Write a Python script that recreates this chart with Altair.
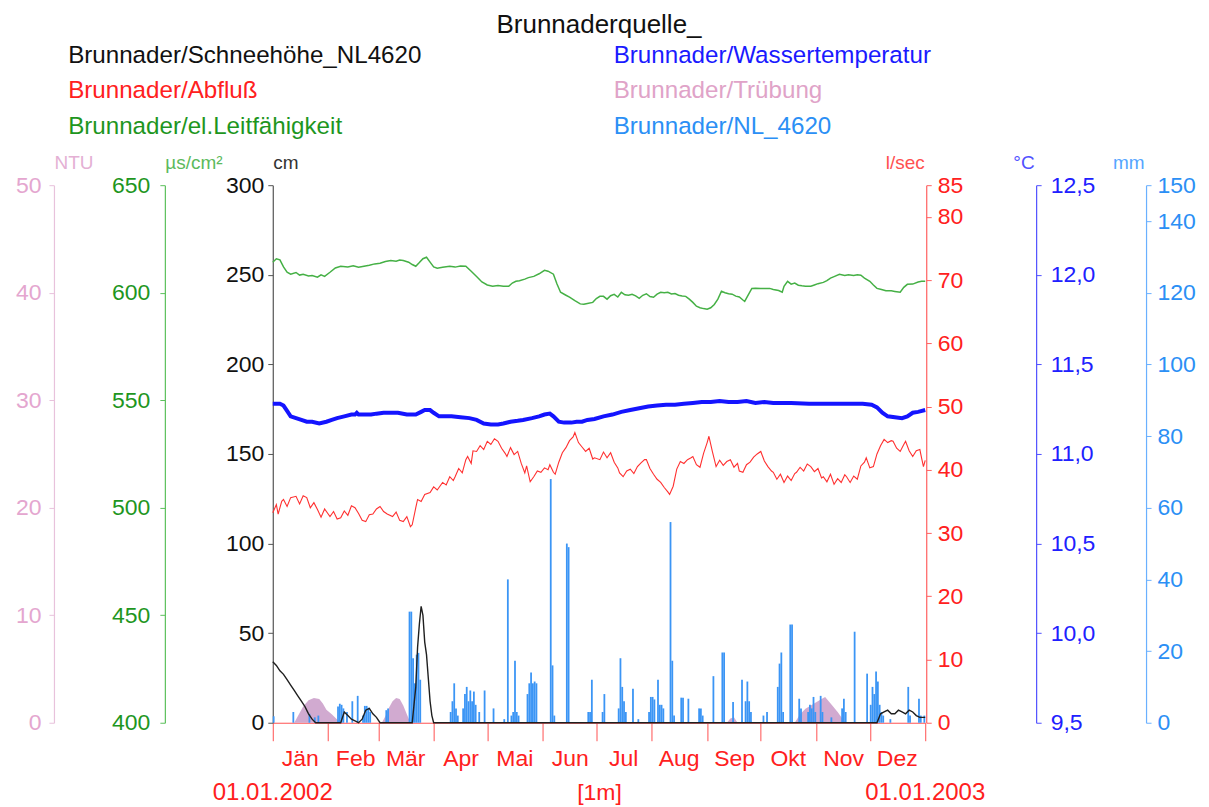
import altair as alt
import pandas as pd

FONT = "Liberation Sans, Arial, Helvetica, sans-serif"

# ---------------- legend / series (column-major order: left column, then right column) ----------------
series_names = ["Brunnader/Schneehöhe_NL4620", "Brunnader/Abfluß",
                "Brunnader/el.Leitfähigkeit", "Brunnader/Wassertemperatur",
                "Brunnader/Trübung", "Brunnader/NL_4620"]
series_colors = ["#1f1f1f", "#ff3030", "#45b045", "#1414ff", "#c99bc8", "#3b95f5"]
label_colors = ["#111111", "#ff2020", "#1e961e", "#1a1aff", "#e0a3c8", "#2b8ff5"]

# ---------------- x axis ----------------
month_starts = [0, 31, 59, 90, 120, 151, 181, 212, 243, 273, 304, 334, 365]
month_names = ["Jän", "Feb", "Mär", "Apr", "Mai", "Jun", "Jul", "Aug", "Sep", "Okt", "Nov", "Dez", ""]
date_days = [0, 365]
date_labels = ["01.01.2002", "01.01.2003"]

# ---------------- data (day of year 2002) ----------------
snow_day = [0, 2, 4, 6, 8, 10, 12, 14, 16, 18, 20, 22, 24, 38, 40, 42, 44, 46, 48, 50, 52, 54, 56, 58, 60,
            78, 80, 81, 82, 83, 84, 85, 86, 87, 88, 89, 90, 338, 340, 342, 344, 346, 348, 350, 352, 354,
            356, 358, 360, 362, 365]
snow_cm = [34, 32, 29, 27, 24, 21, 18, 15, 12, 9, 5, 2, 0, 0, 6, 4, 2, 1, 0, 2, 7, 8, 5, 3, 0,
           0, 20, 42, 55, 65, 60, 45, 38, 25, 12, 4, 0, 0, 5, 6, 7, 5, 5, 7, 6, 5,
           7, 6, 4, 3, 3]

flow_day = [0, 2, 3, 5, 6, 8, 10, 13, 15, 17, 19, 21, 23, 25, 27, 29, 32, 34, 36, 38, 40, 42, 44, 46, 48,
            50, 52, 54, 56, 58, 60, 62, 64, 67, 69, 71, 73, 75, 77, 78, 80, 81, 83, 85, 88, 90, 92, 95,
            97, 99, 101, 102, 104, 106, 108, 109, 111, 112, 114, 116, 118, 120, 122, 124, 126, 128, 130,
            131, 133, 135, 137, 139, 141, 142, 144, 146, 148, 150, 152, 154, 155, 157, 158, 160, 162, 164,
            166, 168, 169, 171, 173, 175, 177, 179, 180, 183, 185, 187, 189, 191, 193, 194, 196, 198, 200,
            202, 204, 206, 208, 209, 211, 213, 215, 217, 219, 221, 222, 224, 226, 228, 230, 232, 234, 235,
            237, 239, 241, 243, 244, 246, 248, 250, 252, 254, 256, 258, 260, 261, 263, 265, 267, 269, 271,
            273, 275, 277, 279, 280, 282, 284, 286, 288, 290, 292, 293, 295, 297, 299, 301, 303, 305, 307,
            308, 310, 312, 314, 316, 318, 320, 321, 323, 325, 327, 329, 331, 332, 334, 336, 338, 340, 342,
            344, 346, 347, 349, 351, 353, 354, 356, 358, 360, 362, 363, 364, 365]
flow_ls = [33.2, 34.5, 33.0, 35.0, 35.3, 34.2, 35.6, 35.8, 34.6, 35.9, 35.6, 34.0, 34.8, 33.7, 32.5, 33.8,
           32.6, 33.4, 32.2, 32.4, 33.5, 32.8, 34.3, 34.0, 33.1, 32.0, 31.8, 32.9, 33.0, 33.8, 34.2, 33.4,
           33.0, 32.6, 33.3, 32.0, 31.8, 32.6, 31.0, 31.3, 34.0, 35.3, 35.0, 36.1, 36.4, 37.3, 36.8, 38.0,
           37.6, 38.9, 38.3, 38.9, 40.2, 39.5, 41.6, 42.1, 41.0, 43.0, 42.9, 43.8, 43.2, 44.5, 44.0, 44.9,
           44.5, 43.4, 42.6, 42.1, 43.5, 42.4, 42.9, 41.0, 39.5, 40.6, 38.1, 38.9, 39.8, 39.6, 40.3, 40.0,
           40.8, 39.6, 39.3, 41.2, 42.7, 43.5, 44.6, 45.2, 45.9, 44.3, 43.6, 42.9, 43.4, 41.7, 41.9, 41.6,
           42.8, 41.9, 42.7, 41.2, 40.3, 39.5, 38.9, 39.8, 40.1, 39.4, 40.5, 41.1, 41.6, 41.6, 40.2, 39.3,
           38.5, 38.0, 37.2, 36.5, 36.1, 37.4, 40.1, 41.3, 41.0, 41.6, 41.9, 42.1, 40.8, 40.4, 42.6, 44.3,
           45.3, 42.8, 40.5, 41.5, 40.7, 41.3, 41.6, 40.4, 41.0, 39.8, 39.6, 40.8, 41.2, 42.0, 42.5, 42.9,
           41.4, 40.5, 39.8, 39.6, 38.5, 39.3, 38.0, 39.0, 38.3, 39.4, 39.6, 40.4, 39.8, 40.9, 40.5, 39.7,
           40.2, 38.7, 38.9, 38.1, 39.3, 37.7, 38.6, 38.0, 39.2, 38.9, 38.0, 39.0, 38.5, 40.6, 41.2, 41.9,
           40.3, 40.5, 42.5, 43.8, 44.8, 44.3, 44.6, 44.5, 43.4, 42.9, 44.0, 44.5, 43.0, 42.1, 43.0, 43.2,
           41.8, 40.5, 41.5]

cond_day = [0, 2, 4, 6, 8, 10, 13, 15, 17, 20, 22, 25, 27, 29, 32, 35, 38, 42, 45, 48, 51, 54, 57, 60, 63,
            66, 69, 71, 73, 76, 78, 80, 82, 84, 86, 88, 90, 92, 95, 99, 102, 105, 108, 111, 114, 117, 120,
            123, 126, 129, 132, 134, 136, 138, 141, 143, 146, 149, 152, 154, 157, 159, 161, 164, 166, 169,
            172, 174, 176, 179, 181, 183, 185, 187, 189, 191, 193, 195, 197, 199, 201, 203, 205, 207, 209,
            211, 213, 215, 217, 219, 221, 223, 225, 227, 229, 231, 233, 235, 237, 239, 241, 243, 245, 247,
            249, 251, 253, 255, 257, 259, 261, 263, 264, 266, 268, 270, 273, 276, 278, 280, 283, 285, 286,
            288, 290, 292, 294, 296, 298, 301, 303, 305, 308, 310, 312, 314, 317, 320, 322, 325, 327, 329,
            331, 334, 336, 338, 340, 343, 346, 348, 351, 353, 355, 358, 361, 363, 365]
cond_us = [614.2, 615.8, 615.3, 612.0, 609.5, 608.6, 609.4, 608.2, 608.6, 607.8, 608.0, 607.2, 608.3,
           607.6, 609.5, 611.5, 612.3, 612.0, 612.5, 611.8, 612.3, 612.8, 613.4, 613.7, 614.5, 615.0,
           614.6, 615.2, 615.0, 614.2, 613.1, 612.3, 614.0, 615.8, 616.5, 614.2, 612.0, 611.4, 611.8,
           612.3, 611.9, 612.4, 612.3, 610.0, 607.5, 605.0, 603.6, 603.0, 603.3, 603.0, 603.0, 604.5,
           605.3, 605.6, 606.3, 607.0, 607.6, 608.8, 610.4, 610.0, 608.6, 604.0, 600.2, 598.8, 597.9,
           596.3, 594.8, 594.6, 595.0, 595.5, 597.3, 598.3, 598.3, 597.0, 598.6, 599.2, 598.0, 600.2,
           599.0, 598.8, 599.3, 598.5, 597.4, 598.8, 599.5, 598.2, 597.9, 599.3, 600.2, 600.0, 600.2,
           599.4, 599.6, 598.8, 598.5, 598.3, 597.0, 595.5, 593.7, 593.0, 592.6, 592.3, 593.0, 594.5,
           597.0, 600.7, 600.0, 599.5, 599.3, 598.4, 598.0, 596.6, 596.0, 599.0, 602.0, 602.1, 602.0,
           602.0, 602.0, 601.5, 601.0, 600.2, 603.0, 605.3, 604.0, 604.5, 603.5, 603.2, 603.0, 603.0,
           603.6, 604.2, 604.8, 605.6, 606.8, 607.5, 608.6, 608.0, 608.3, 608.0, 608.3, 608.1, 606.8,
           605.3, 603.6, 602.0, 601.6, 600.9, 600.9, 600.6, 600.2, 602.5, 603.9, 604.0, 605.0, 605.3,
           605.3]

temp_day = [0, 4, 6, 8, 10, 13, 16, 19, 22, 26, 30, 33, 36, 40, 44, 46, 47, 48, 55, 58, 62, 70, 75, 80,
            83, 85, 88, 90, 93, 100, 105, 110, 114, 118, 122, 126, 129, 133, 137, 140, 145, 149, 152, 155,
            157, 160, 163, 167, 170, 173, 176, 180, 185, 190, 195, 200, 205, 210, 215, 220, 225, 230, 235,
            240, 245, 250, 255, 260, 265, 270, 275, 280, 290, 300, 310, 320, 330, 335, 338, 341, 344, 348,
            352, 355, 358, 361, 365]
temp_c = [11.28, 11.28, 11.27, 11.24, 11.21, 11.20, 11.19, 11.18, 11.18, 11.17, 11.18, 11.19, 11.20,
          11.21, 11.22, 11.22, 11.23, 11.22, 11.22, 11.225, 11.23, 11.23, 11.22, 11.22, 11.235, 11.245,
          11.245, 11.23, 11.21, 11.21, 11.205, 11.20, 11.19, 11.17, 11.165, 11.165, 11.17, 11.18, 11.185,
          11.19, 11.20, 11.21, 11.22, 11.225, 11.21, 11.18, 11.175, 11.175, 11.18, 11.18, 11.19, 11.195,
          11.21, 11.22, 11.235, 11.245, 11.255, 11.265, 11.27, 11.275, 11.275, 11.28, 11.285, 11.29,
          11.29, 11.295, 11.29, 11.29, 11.295, 11.285, 11.29, 11.285, 11.285, 11.28, 11.28, 11.28, 11.28,
          11.275, 11.26, 11.23, 11.21, 11.205, 11.20, 11.21, 11.23, 11.235, 11.245]

turb_day = [0, 12, 14, 17, 20, 23, 26, 28, 30, 33, 36, 38, 61, 63, 65, 67, 69, 71, 73, 75, 77, 254, 256,
            258, 260, 292, 295, 298, 301, 304, 307, 309, 311, 313, 316, 319, 321, 365]
turb_ntu = [0, 0, 0.6, 1.5, 2.1, 2.3, 2.2, 1.8, 1.2, 0.8, 0.3, 0, 0, 0.6, 1.4, 2.0, 2.3, 2.2, 1.6, 0.8, 0,
            0, 0.4, 0.5, 0, 0, 0.8, 1.3, 1.6, 1.9, 2.2, 2.4, 2.0, 1.6, 1.0, 0.3, 0, 0]

rain_day = [0, 11, 20, 23, 25, 36, 37, 38, 39, 41, 44, 47, 50, 51, 52, 53, 54, 63, 64, 76, 77, 78, 79, 80,
            81, 82, 99, 100, 101, 102, 103, 106, 107, 108, 109, 110, 111, 112, 113, 115, 118, 123, 129, 131,
            133, 134, 135, 136, 137, 142, 143, 144, 145, 146, 147, 155, 156, 157, 164, 165, 176, 177, 178,
            184, 185, 193, 194, 195, 196, 197, 201, 204, 210, 211, 212, 213, 215, 216, 217, 218, 222, 223,
            224, 228, 229, 232, 238, 239, 240, 246, 251, 252, 257, 262, 264, 265, 266, 267, 274, 276, 282,
            283, 284, 285, 289, 290, 294, 295, 299, 300, 301, 302, 303, 306, 307, 312, 318, 319, 320, 325,
            332, 334, 335, 336, 337, 338, 339, 340, 341, 345, 355, 356, 361, 362, 364]
rain_mm = [1.8, 3.0, 2.5, 1.5, 2.0, 4.5, 5.3, 5.0, 4.0, 3.0, 6.0, 7.5, 2.0, 4.7, 4.7, 4.2, 3.0, 3.5, 4.0,
           31.0, 31.0, 18.0, 11.0, 19.0, 19.5, 12.0, 3.0, 6.0, 11.0, 4.0, 2.0, 4.0, 8.0, 10.0, 6.0, 9.0,
           6.0, 8.7, 5.0, 3.0, 9.0, 4.0, 1.0, 40.0, 2.0, 3.0, 17.3, 3.0, 2.0, 8.0, 11.0, 14.0, 11.0, 11.5,
           11.0, 68.0, 16.0, 2.0, 50.0, 49.0, 3.0, 3.0, 12.0, 3.0, 8.0, 4.0, 18.0, 10.0, 6.0, 3.0, 9.5,
           1.0, 3.0, 7.2, 7.2, 6.5, 12.0, 5.0, 5.0, 4.0, 56.0, 17.3, 2.0, 7.0, 7.0, 6.7, 4.0, 4.0, 2.0,
           13.0, 19.6, 19.6, 5.8, 12.0, 6.0, 11.5, 6.0, 3.0, 2.0, 3.0, 10.0, 16.5, 19.6, 3.0, 27.4, 27.4,
           6.7, 4.0, 3.0, 5.0, 4.0, 7.2, 3.0, 7.5, 3.0, 1.5, 4.0, 6.7, 3.0, 25.4, 13.7, 5.0, 10.0, 8.0,
           14.3, 11.5, 5.0, 3.0, 2.0, 1.0, 10.0, 2.0, 6.7, 2.0, 2.0]

# ---------------- tables ----------------
snow_df = pd.DataFrame({"day": snow_day, "v": snow_cm})
flow_df = pd.DataFrame({"day": flow_day, "v": flow_ls})
cond_df = pd.DataFrame({"day": cond_day, "v": cond_us})
temp_df = pd.DataFrame({"day": temp_day, "v": temp_c})
turb_df = pd.DataFrame({"day": turb_day, "v": turb_ntu})
rain_df = pd.DataFrame({"day": rain_day, "v": rain_mm})
date_df = pd.DataFrame({"day": date_days, "label": date_labels})

W, H = 653, 538

def js_list(items):
    return "[" + ",".join("'" + str(s) + "'" if isinstance(s, str) else str(s) for s in items) + "]"

month_expr = f"{js_list(month_names)}[indexof({js_list(month_starts)}, datum.value)]"
legend_color_expr = f"{js_list(label_colors)}[indexof({js_list(series_names)}, datum.label)]"

legend_def = alt.Legend(
    title=None, orient="none", legendX=-229, legendY=-142, columns=2,
    columnPadding=168, rowPadding=11, symbolOpacity=0, symbolSize=1, symbolStrokeWidth=0,
    labelOffset=0, labelFont=FONT, labelFontSize=24.2, labelLimit=800, padding=0,
    labelColor=alt.ExprRef(expr=legend_color_expr),
)

def col():
    return alt.Color("series:N",
                     scale=alt.Scale(domain=series_names, range=series_colors),
                     legend=legend_def)

def tag(name):
    return {"series": f"'{name}'"}

x_axis = alt.Axis(
    values=month_starts, labelExpr=month_expr, labelOffset=27, tickSize=18,
    tickColor="#ff5050", domainColor="#ff5050", labelColor="#ff2020",
    labelFont=FONT, labelFontSize=23, labelPadding=7, grid=False,
    title="[1m]", titleColor="#ff2020", titleFont=FONT, titleFontSize=23,
    titleFontWeight="normal", titlePadding=11, labelFlush=False, labelOverlap=False,
    labelBound=False,
)

def xenc():
    return alt.X("day:Q", scale=alt.Scale(domain=[0, 365], nice=False, zero=False), axis=x_axis)

def yaxis(orient, offset, title, values, lab_c, line_c, title_c, label_expr=None, label_pad=6):
    kw = dict(
        orient=orient, offset=offset, title=title, values=values, grid=False,
        labelColor=lab_c, domainColor=line_c, tickColor=line_c, titleColor=title_c,
        titleAngle=0, titleX=0 if orient == "left" else -2, titleY=-23,
        titleAlign="left" if orient == "left" else "right", titleBaseline="middle",
        titleFont=FONT, titleFontSize=19, titleFontWeight="normal",
        labelFont=FONT, labelFontSize=23, labelPadding=label_pad, tickSize=5,
        domainWidth=1.2, labelFlush=False, labelOverlap=False,
    )
    if label_expr:
        kw["labelExpr"] = label_expr
    return alt.Axis(**kw)

turb = alt.Chart(turb_df).transform_calculate(**tag("Brunnader/Trübung")).mark_area(
    opacity=0.85, interpolate="linear").encode(
    x=xenc(),
    y=alt.Y("v:Q", scale=alt.Scale(domain=[0, 50], nice=False),
            axis=yaxis("left", 219, "NTU", [0, 10, 20, 30, 40, 50], "#e4a6cf", "#e8c2dc", "#e4b0d4", label_pad=8)),
    color=col(),
)

cond = alt.Chart(cond_df).transform_calculate(**tag("Brunnader/el.Leitfähigkeit")).mark_line(
    strokeWidth=1.5).encode(
    x=xenc(),
    y=alt.Y("v:Q", scale=alt.Scale(domain=[400, 650], nice=False, zero=False),
            axis=yaxis("left", 108, "µs/cm²", [400, 450, 500, 550, 600, 650], "#1e961e", "#5cc05c", "#5cba5c", label_pad=10)),
    color=col(),
)

rain = alt.Chart(rain_df).transform_calculate(d2="datum.day + 1", **tag("Brunnader/NL_4620")).mark_rect().encode(
    x=xenc(), x2="d2:Q",
    y=alt.Y("v:Q", scale=alt.Scale(domain=[0, 150], nice=False),
            axis=yaxis("right", 221, "mm", [0, 20, 40, 60, 80, 100, 120, 140, 150], "#2b8ff5", "#6ab0ff", "#55a5ff")),
    y2=alt.datum(0),
    color=col(),
)

snow = alt.Chart(snow_df).transform_calculate(**tag("Brunnader/Schneehöhe_NL4620")).mark_line(
    strokeWidth=1.4).encode(
    x=xenc(),
    y=alt.Y("v:Q", scale=alt.Scale(domain=[0, 300], nice=False),
            axis=yaxis("left", 0, "cm", [0, 50, 100, 150, 200, 250, 300], "#111111", "#555555", "#333333", label_pad=4)),
    color=col(),
)

flow = alt.Chart(flow_df).transform_calculate(**tag("Brunnader/Abfluß")).mark_line(strokeWidth=1.1).encode(
    x=xenc(),
    y=alt.Y("v:Q", scale=alt.Scale(domain=[0, 85], nice=False),
            axis=yaxis("right", 1, "l/sec", [0, 10, 20, 30, 40, 50, 60, 70, 80, 85], "#ff2020", "#ff6060", "#ff5050")),
    color=col(),
)

temp = alt.Chart(temp_df).transform_calculate(**tag("Brunnader/Wassertemperatur")).mark_line(
    strokeWidth=4).encode(
    x=xenc(),
    y=alt.Y("v:Q", scale=alt.Scale(domain=[9.5, 12.5], nice=False, zero=False),
            axis=yaxis("right", 111, "°C", [9.5, 10.0, 10.5, 11.0, 11.5, 12.0, 12.5], "#2020ff", "#5050ff", "#5050ff",
                       label_expr="replace(format(datum.value, '.1f'), '.', ',')", label_pad=9)),
    color=col(),
)

dates = alt.Chart(date_df).mark_text(font=FONT, fontSize=24, color="#ff2020", baseline="middle").encode(
    x=xenc(), y=alt.value(H + 70), text="label:N",
)

chart = alt.layer(turb, rain, snow, flow, cond, temp, dates).resolve_scale(
    y="independent"
).properties(
    width=W, height=H,
    title=alt.TitleParams("Brunnaderquelle_", font=FONT, fontSize=26, fontWeight="normal",
                          color="#111111", anchor="middle", offset=5),
    padding={"left": 7, "top": 4, "right": 5, "bottom": 5},
    background="white",
).configure_view(strokeWidth=0)

chart.save("out.html", embed_options={"renderer": "svg", "actions": False})
